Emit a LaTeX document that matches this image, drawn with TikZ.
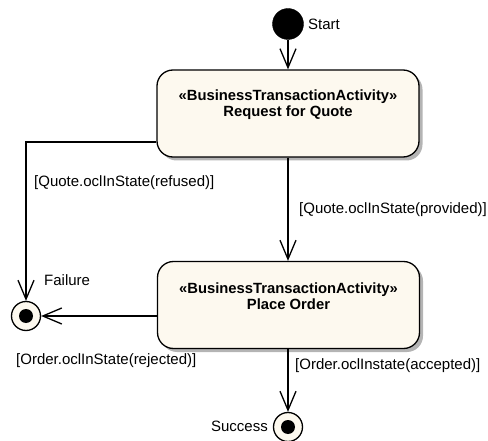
\documentclass[tikz,border=0pt]{standalone}
\usepackage{fontspec}
\setmainfont{Liberation Sans}
\usetikzlibrary{arrows.meta,shadows}
\definecolor{boxfill}{HTML}{FDF9EF}
\definecolor{shadowgray}{HTML}{B4B4B4}
\tikzset{
  actbox/.style={draw=black, line width=1.3pt, fill=boxfill, rounded corners=16pt,
    minimum width=262pt, minimum height=87pt, inner sep=0pt,
    drop shadow={shadow xshift=3.5pt, shadow yshift=-3.5pt, fill=shadowgray, opacity=1}},
  acttitle/.style={font=\fontsize{14.8pt}{16pt}\selectfont\bfseries, align=center, inner sep=0pt},
  lbl/.style={font=\fontsize{15pt}{17pt}\selectfont, inner sep=0pt},
  flow/.style={draw=black, line width=1.3pt, -{Straight Barb[length=19pt,width=16pt,line width=1.3pt]}},
  initnode/.style={circle, fill=black, draw=black, minimum size=31pt, inner sep=0pt},
  finalnode/.style={circle, fill=boxfill, draw=black, line width=1.3pt, minimum size=29pt, inner sep=0pt},
  finaldot/.style={circle, fill=black, minimum size=14pt, inner sep=0pt},
}
\begin{document}
\begin{tikzpicture}[x=1pt,y=-1pt]
\useasboundingbox (0,0) rectangle (488,441);
% nodes
\node[initnode] (start) at (288,24) {};
\node[lbl, anchor=west] (startl) at (308,24) {Start};

\node[actbox] (rfq) at (288,113.5) {};
\node[acttitle, yshift=8.5pt] (rfqt) at (rfq.center) {«BusinessTransactionActivity»\\Request for Quote};

\node[actbox] (po) at (288.5,305) {};
\node[acttitle, yshift=8.5pt] (pot) at (po.center) {«BusinessTransactionActivity»\\Place Order};

\node[finalnode] (fail) at (26,316) {};
\node[finaldot] (faild) at (fail.center) {};
\node[lbl, anchor=west] (faill) at (44,280) {Failure};

\node[finalnode] (succ) at (288,427) {};
\node[finaldot] (succd) at (succ.center) {};
\node[lbl, anchor=east] (succl) at (268,426) {Success};

\coordinate (bend) at (26,142);

% connectors
\draw[flow] (start) -- (rfq);
\draw[flow] (rfq.south) -- (po.north -| rfq.south);
\draw[flow] (rfq.west |- bend) -- (bend) -- (fail);
\draw[flow] (po.west |- fail) -- (fail);
\draw[flow] (po.south -| succ) -- (succ);

% guard labels
\node[lbl, anchor=west] (refl) at (34,183) {[Quote.oclInState(refused)]};
\node[lbl, anchor=west] (provl) at (299,210) {[Quote.oclInState(provided)]};
\node[lbl, anchor=west] (rejl) at (16,361) {[Order.oclInState(rejected)]};
\node[lbl, anchor=west] (accl) at (295,366) {[Order.oclInstate(accepted)]};
\end{tikzpicture}
\end{document}
